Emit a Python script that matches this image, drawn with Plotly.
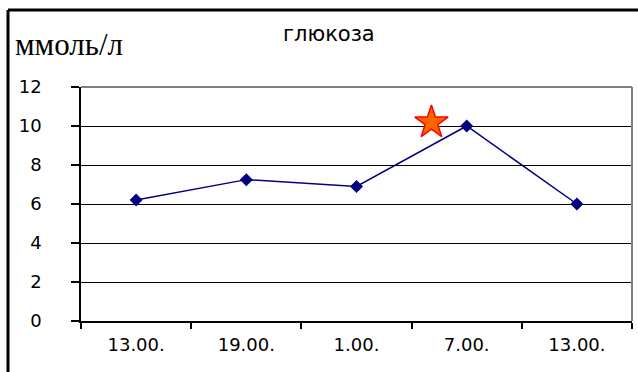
import plotly.graph_objects as go

# Glucose readings over a day
times = ["13.00.", "19.00.", "1.00.", "7.00.", "13.00."]
glucose = [6.2, 7.25, 6.9, 10.0, 6.0]

# Highlighted moment (between 1.00. and 7.00.)
star_x = [2.68]
star_y = [10.18]

y_ticks = [0, 2, 4, 6, 8, 10, 12]

idx = list(range(len(times)))

fig = go.Figure()
fig.add_trace(go.Scatter(
    x=idx, y=glucose, mode="lines+markers",
    line=dict(color="#000080", width=1.5),
    marker=dict(symbol="diamond", size=10, color="#000080"),
    showlegend=False, hoverinfo="skip",
))
fig.add_trace(go.Scatter(
    x=star_x, y=star_y, mode="markers",
    marker=dict(symbol="star", size=25, color="#FF6600",
                line=dict(color="#FF0000", width=1.5)),
    showlegend=False, hoverinfo="skip",
))

W, H = 638, 372
L, R, T, B = 81, 6, 87, 51
pw, ph = W - L - R, H - T - B


def px_x(p):
    return (p - L) / pw


def px_y(p):
    return (H - B - p) / ph


sans = "DejaVu Sans"

fig.update_layout(
    width=W, height=H,
    margin=dict(l=L, r=R, t=T, b=B, pad=0),
    paper_bgcolor="white", plot_bgcolor="white",
    xaxis=dict(
        range=[-0.5, len(times) - 0.5],
        tickmode="array", tickvals=idx, ticktext=times,
        ticks="", showgrid=False, zeroline=False,
        showline=True, linecolor="black", linewidth=1.5,
        tickfont=dict(family=sans, size=18, color="black"),
        ticklabelstandoff=7,
        minor=dict(tickmode="array",
                   tickvals=[i - 0.5 for i in range(len(times) + 1)],
                   ticks="outside", ticklen=6, tickcolor="black",
                   tickwidth=1.5, showgrid=False),
    ),
    yaxis=dict(
        range=[0, 12], tickmode="array", tickvals=y_ticks,
        ticks="outside", ticklen=8, tickcolor="black", tickwidth=1.5,
        showgrid=True, gridcolor="black", gridwidth=1,
        zeroline=False, showline=True, linecolor="black", linewidth=1.5,
        tickfont=dict(family=sans, size=18, color="black"),
        ticklabelstandoff=26,
    ),
    shapes=[
        # grey frame on top and right of the plot area
        dict(type="line", xref="paper", yref="paper", x0=0, x1=1, y0=1, y1=1,
             line=dict(color="#808080", width=2)),
        dict(type="line", xref="paper", yref="paper", x0=1, x1=1, y0=0, y1=1,
             line=dict(color="#808080", width=2)),
        # outer chart border (top and left)
        dict(type="line", xref="paper", yref="paper",
             x0=px_x(8), x1=px_x(W + 5), y0=px_y(10), y1=px_y(10),
             line=dict(color="black", width=3)),
        dict(type="line", xref="paper", yref="paper",
             x0=px_x(8), x1=px_x(8), y0=px_y(10), y1=px_y(H + 5),
             line=dict(color="black", width=3)),
    ],
    annotations=[
        dict(text="глюкоза", xref="paper", yref="paper",
             x=px_x(329), y=px_y(34), xanchor="center", yanchor="middle",
             showarrow=False, font=dict(family=sans, size=21, color="black")),
        dict(text="ммоль/л", xref="paper", yref="paper",
             x=px_x(13), y=px_y(44), xanchor="left", yanchor="middle",
             showarrow=False,
             font=dict(family="Liberation Serif", size=31, color="black")),
    ],
)

fig.write_html("out.html")
